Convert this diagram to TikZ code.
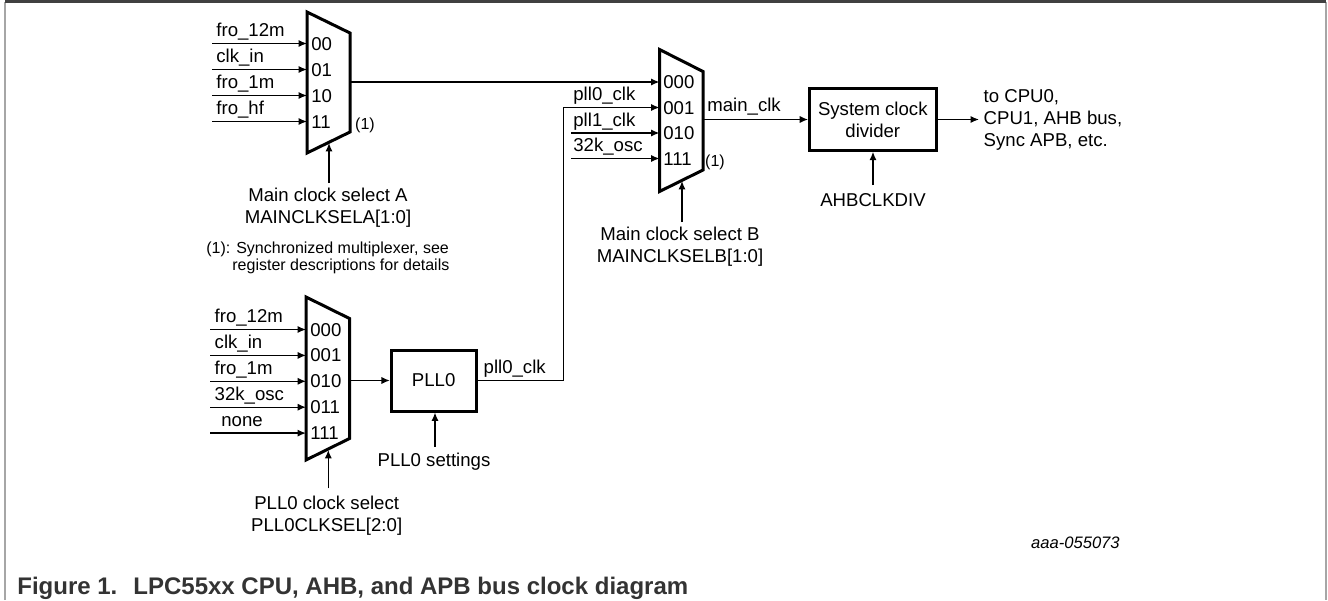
\documentclass[tikz,border=0pt]{standalone}
\usepackage{fontspec}
\setmainfont{Liberation Sans}
\usetikzlibrary{arrows.meta}

\begin{document}
\begin{tikzpicture}[x=0.5pt,y=-0.5pt,>={Latex[length=4.2pt,width=3.6pt]},
    sig/.style={line width=0.7pt},
    mux/.style={line width=1.5pt,line join=miter},
    txt/.style={inner sep=0pt,font=\fontsize{9.3}{11}\selectfont},
    note/.style={inner sep=0pt,font=\fontsize{8}{8.5}\selectfont},
    blk/.style={txt,draw,line width=1.5pt,align=center}]
    \useasboundingbox (0,0) rectangle (1328,600);
    % frame
    \draw[black!35,line width=0.8pt] (5,600) -- (5,1.5);
    \draw[black!35,line width=0.8pt] (1326,1.5) -- (1326,600);
    \draw[black!75,line width=1.1pt] (5,1.5) -- (1326,1.5);

    % main clock select A
    \draw[mux] (307,12) -- (350,33) -- (350,132) -- (307,153) -- cycle;
    \coordinate (muxA) at (350,82);
    \foreach \n/\y/\src/\code in {0/43.5/fro\_12m/00,1/69.5/clk\_in/01,2/95.5/fro\_1m/10,3/121.5/fro\_hf/11} {
        \coordinate (inA\n) at (212,\y);
        \coordinate (pA\n) at (307,\y);
        \draw[sig,->] (inA\n) -- (pA\n);
        \node[txt,anchor=base west] (srcA\n) at (216,\y-7) {\src};
        \node[txt,anchor=base west] (codeA\n) at (311,\y+6.5) {\code};
    }
    \node[note] (syncA) at (365,125) {(1)};
    \node[txt,align=center,anchor=base] (selA) at (328,223.7) {Main clock select A\\MAINCLKSELA[1:0]};
    \coordinate (selAfrom) at (329,183);
    \coordinate (selAto) at (329,143);
    \draw[sig,->] (selAfrom) -- (selAto);
    \node[note,anchor=base west] (foot1) at (206,253) {(1): Synchronized multiplexer, see};
    \node[note,anchor=base west] (foot2) at (232,270) {register descriptions for details};

    % main clock select B
    \draw[mux] (659.5,49.5) -- (703,71.5) -- (703,170) -- (659.5,191.5) -- cycle;
    \coordinate (pB0) at (659.5,82);
    \coordinate (pB1) at (659.5,107.5);
    \coordinate (pB2) at (659.5,133);
    \coordinate (pB3) at (659.5,158.5);
    \coordinate (inB2) at (571,133);
    \coordinate (inB3) at (571,158.5);
    \coordinate (muxB) at (703,119.5);
    \draw[sig,->] (muxA) -- (pB0);
    \draw[sig,->] (inB2) -- (pB2);
    \draw[sig,->] (inB3) -- (pB3);
    \node[txt,anchor=base west] (srcB1) at (573,100.5) {pll0\_clk};
    \node[txt,anchor=base west] (srcB2) at (573,126) {pll1\_clk};
    \node[txt,anchor=base west] (srcB3) at (573,151.5) {32k\_osc};
    \foreach \n/\y/\code in {0/82/000,1/107.5/001,2/133/010,3/158.5/111}
        \node[txt,anchor=base west] (codeB\n) at (663,\y+6.5) {\code};
    \node[note] (syncB) at (715,162.7) {(1)};
    \node[txt,align=center,anchor=base] (selB) at (680,262.5) {Main clock select B\\MAINCLKSELB[1:0]};
    \coordinate (selBfrom) at (682,222);
    \coordinate (selBto) at (682,181);
    \draw[sig,->] (selBfrom) -- (selBto);

    % system clock divider
    \node[blk,minimum width=63.25pt,minimum height=30.75pt] (sysdiv) at (872.8,119.5) {System clock\\divider};
    \draw[sig,->] (muxB) -- (sysdiv.west);
    \node[txt,anchor=base west] (mainclk) at (707,111) {main\_clk};
    \coordinate (cpu) at (979,119.5);
    \draw[sig,->] (sysdiv.east) -- (cpu);
    \node[txt,anchor=base west,align=left] (dest) at (983.3,146.7) {to CPU0,\\CPU1, AHB bus,\\Sync APB, etc.};
    \node[txt,anchor=base] (ahbdiv) at (873,206.6) {AHBCLKDIV};
    \coordinate (divfrom) at (873,185);
    \draw[sig,->] (divfrom) -- (divfrom |- sysdiv.south);

    % PLL0 clock select
    \draw[mux] (306,297) -- (349.5,318.5) -- (349.5,438.5) -- (306,460) -- cycle;
    \coordinate (muxC) at (349.5,380.5);
    \foreach \n/\y/\lx/\src/\code in {0/329.5/214.3/fro\_12m/000,1/355.4/214.3/clk\_in/001,2/381.3/214.3/fro\_1m/010,3/407.2/214.3/32k\_osc/011,4/433.1/221/none/111} {
        \coordinate (inC\n) at (210,\y);
        \coordinate (pC\n) at (306,\y);
        \draw[sig,->] (inC\n) -- (pC\n);
        \node[txt,anchor=base west] (srcC\n) at (\lx,\y-7) {\src};
        \node[txt,anchor=base west] (codeC\n) at (310,\y+6.5) {\code};
    }
    \node[txt,align=center,anchor=base] (selC) at (326.7,531.3) {PLL0 clock select\\PLL0CLKSEL[2:0]};
    \coordinate (selCfrom) at (328.3,488.3);
    \coordinate (selCto) at (328.3,450);
    \draw[sig,->] (selCfrom) -- (selCto);

    % PLL0
    \node[blk,minimum width=42.35pt,minimum height=30.5pt] (pll) at (433.7,380.5) {PLL0};
    \draw[sig,->] (muxC) -- (pll.west);
    \node[txt,anchor=base] (pllset) at (434,466.6) {PLL0 settings};
    \coordinate (setfrom) at (435,446.7);
    \draw[sig,->] (setfrom) -- (setfrom |- pll.south);
    \coordinate (riser) at (563.5,380.5);
    \draw[sig,->] (pll.east) -- (riser) |- (pB1);
    \node[txt,anchor=base west] (pllout) at (483.3,373.5) {pll0\_clk};

    % figure id and caption
    \node[inner sep=0pt,anchor=base west,font=\itshape\fontsize{8.3}{10}\selectfont] (figid) at (1030.7,548.7) {aaa-055073};
    \node[inner sep=0pt,anchor=base west,font=\bfseries\fontsize{12}{14}\selectfont,text=black!80] (cap) at (17,594) {Figure 1.\hspace{8pt}LPC55xx CPU, AHB, and APB bus clock diagram};
\end{tikzpicture}
\end{document}
